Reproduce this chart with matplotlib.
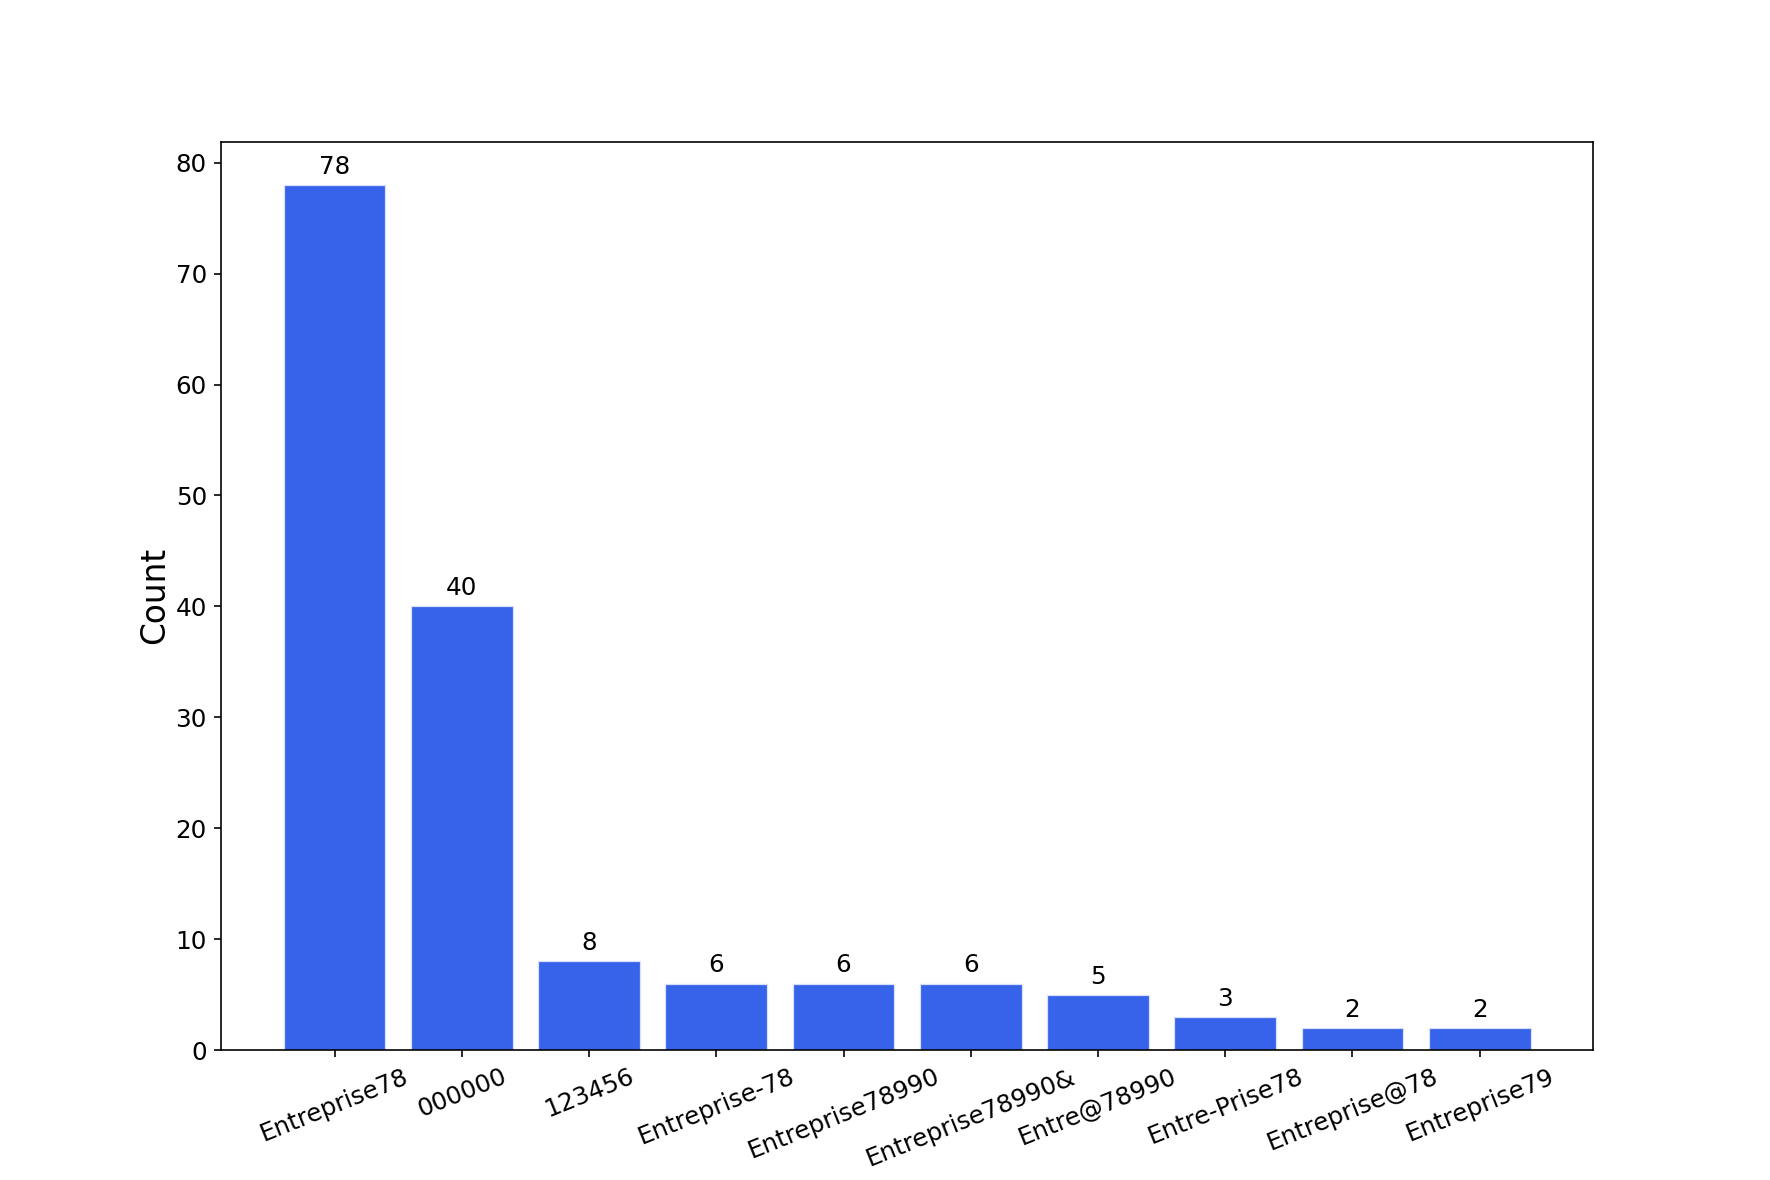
import matplotlib
matplotlib.use('Agg')
import matplotlib.pyplot as plt

LABELS = ['Entreprise78', '000000', '123456', 'Entreprise-78', 'Entreprise78990',
          'Entreprise78990&', 'Entre@78990', 'Entre-Prise78', 'Entreprise@78', 'Entreprise79']
COUNTS = [78, 40, 8, 6, 6, 6, 5, 3, 2, 2]

fig, ax = plt.subplots(figsize=(12, 8))
bars = ax.bar(LABELS, COUNTS, color='#3763eb', edgecolor='#d8e0fb', linewidth=0.6)

for b, v in zip(bars, COUNTS):
    ax.annotate(f"{v}", (b.get_x() + b.get_width() / 2, b.get_height()),
                xytext=(0, 3), textcoords='offset points',
                ha='center', va='bottom', fontsize=12)

ax.set_ylabel('Count', fontsize=16, labelpad=2)
ax.tick_params(axis='both', labelsize=12)
plt.setp(ax.get_xticklabels(), rotation=22, ha='center')

fig.savefig('out.png', dpi=147.5)
